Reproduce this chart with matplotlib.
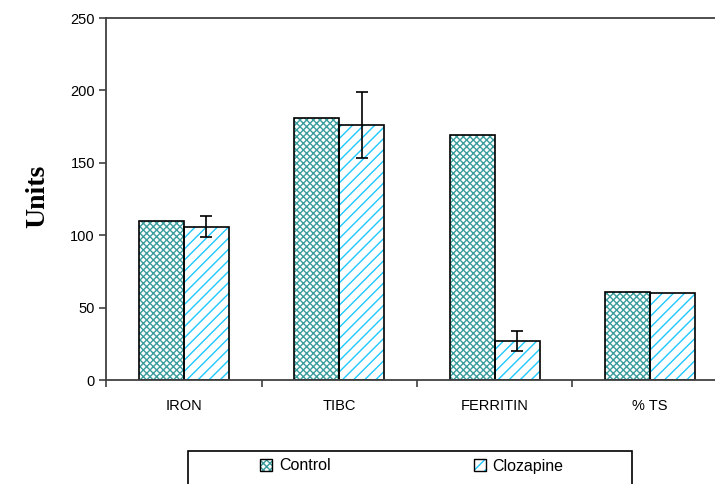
import matplotlib
matplotlib.use("Agg")
import matplotlib.pyplot as plt
import numpy as np
from matplotlib.patches import Rectangle, Patch

categories = ["IRON", "TIBC", "FERRITIN", "% TS"]
control = [110, 181, 169, 61]
clozapine = [106, 176, 27, 60]
clozapine_err = [7, 23, 7, 0]

teal = "#3a9c9c"
cyan = "#1ec8ff"
narrow = ["Liberation Sans Narrow", "Liberation Sans", "DejaVu Sans"]

plt.rcParams["hatch.linewidth"] = 1.0

fig = plt.figure(figsize=(7.15, 4.84), dpi=100)
ax = fig.add_axes([106 / 715, 1 - 380 / 484, 622 / 715, 362 / 484])

x = np.arange(len(categories)) + 0.5
w = 0.29

# hatched fills (hatch colour follows edgecolor), then black outlines on top
ax.bar(x - w / 2, control, w, facecolor="white", edgecolor=teal, hatch="xxxxx", lw=0)
ax.bar(x + w / 2, clozapine, w, facecolor="white", edgecolor=cyan, hatch="///", lw=0)
ax.bar(x - w / 2, control, w, fill=False, edgecolor="black", lw=1.2)
ax.bar(x + w / 2, clozapine, w, fill=False, edgecolor="black", lw=1.2)

err = np.array(clozapine_err)
m = err > 0
ax.errorbar((x + w / 2)[m], np.array(clozapine)[m], yerr=err[m], fmt="none",
            ecolor="black", elinewidth=1.2, capsize=4.5, capthick=1.2)

ax.set_xlim(0, 4)
ax.set_ylim(0, 250)
ax.set_yticks([0, 50, 100, 150, 200, 250])
ax.set_xticks([0, 1, 2, 3, 4])
ax.set_xticklabels([])
ax.set_xticks(x, minor=True)
ax.set_xticklabels(categories, minor=True, family=narrow, fontsize=10.5)
ax.tick_params(axis="x", which="minor", length=0, pad=14)
ax.tick_params(axis="x", which="major", length=5, width=1.2, color="#404040")
ax.tick_params(axis="y", length=5, width=1.2, color="#404040", pad=3)
for lab in ax.get_yticklabels():
    lab.set_family(narrow)
    lab.set_fontsize(10.5)
for s in ax.spines.values():
    s.set_color("#404040")
    s.set_linewidth(1.3)

fig.text(38 / 715, 1 - 196 / 484, "Units", rotation=90, ha="center", va="center",
         family=["Liberation Serif", "DejaVu Serif"], fontweight="bold", fontsize=20)

# legend box (cropped at the bottom edge like the original)
fig.patches.append(Rectangle((188 / 715, -0.05), 444 / 715, 0.05 + (484 - 451) / 484,
                             transform=fig.transFigure, fill=False,
                             edgecolor="black", lw=1.2))
h1 = (Patch(facecolor="white", edgecolor=teal, hatch="xxxxx", lw=0),
      Patch(fill=False, edgecolor="black", lw=1))
h2 = (Patch(facecolor="white", edgecolor=cyan, hatch="///", lw=0),
      Patch(fill=False, edgecolor="black", lw=1))
fig.legend([h1, h2], ["Control", "Clozapine"], ncol=2, frameon=False,
           loc="center", bbox_to_anchor=(412 / 715, 1 - 466 / 484),
           handlelength=0.75, handleheight=0.75, handletextpad=0.4,
           columnspacing=9.0, prop={"family": narrow, "size": 11.5})

fig.savefig("out.png", dpi=100)
